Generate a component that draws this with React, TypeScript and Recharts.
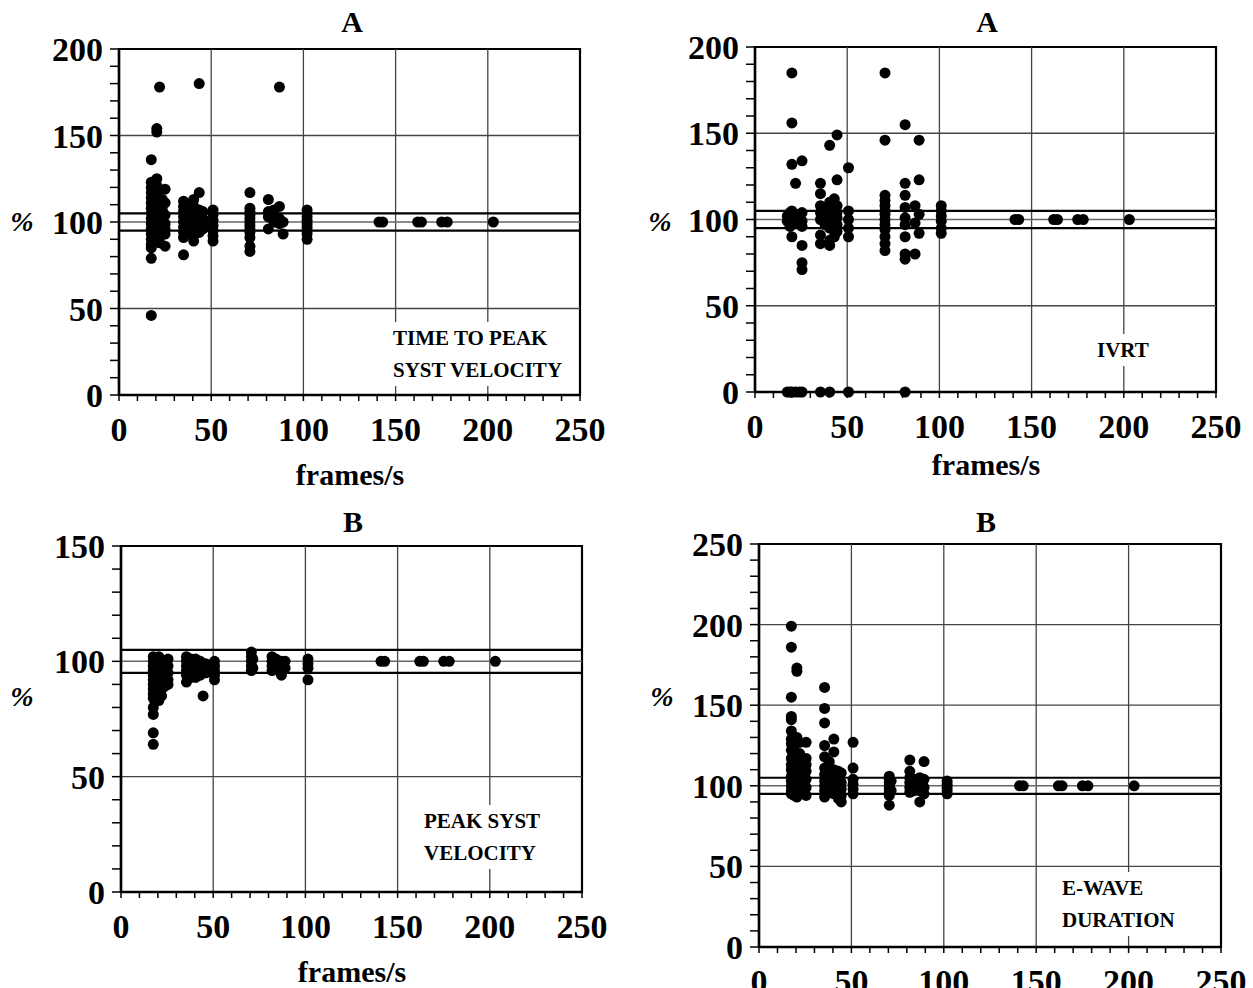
import { ScatterChart, Scatter, XAxis, YAxis, ReferenceLine, ReferenceArea } from "recharts";

// [frames/s, %]
const ttpPoints: [number, number][] = [
    [17.5, 136], [17.5, 123], [17.5, 120], [17.5, 117], [17.5, 114], [17.5, 111], [17.5, 108], [17.5, 105], [17.5, 102],
    [17.5, 99], [17.5, 96], [17.5, 93], [17.5, 90], [17.5, 87], [17.5, 85], [17.5, 79], [17.5, 46],
    [19, 122], [19, 118], [19, 112], [19, 106], [19, 101], [19, 97], [19, 94], [19, 89],
    [20.5, 154], [20.5, 152], [20.5, 125], [20.5, 121], [20.5, 115], [20.5, 109], [20.5, 103], [20.5, 98], [20.5, 92],
    [22, 178], [22, 119], [22, 110], [22, 104], [22, 100], [22, 95], [22, 91], [22, 88],
    [23.5, 113], [23.5, 107], [23.5, 97],
    [25, 119], [25, 111], [25, 104], [25, 99], [25, 96], [25, 93], [25, 86],
    [35, 112], [35, 109], [35, 106], [35, 103], [35, 100], [35, 97], [35, 94], [35, 91], [35, 81],
    [38, 110], [38, 107], [38, 104], [38, 101], [38, 98], [38, 95],
    [40.5, 113], [40.5, 109], [40.5, 106], [40.5, 103], [40.5, 100], [40.5, 96], [40.5, 92], [40.5, 89],
    [43.5, 180], [43.5, 117], [43.5, 107], [43.5, 104], [43.5, 101], [43.5, 98], [43.5, 94],
    [45.5, 106], [45.5, 102], [45.5, 99], [45.5, 96],
    [51, 107], [51, 104], [51, 101], [51, 98], [51, 95], [51, 92], [51, 89],
    [71, 117], [71, 108], [71, 106], [71, 104], [71, 102], [71, 100], [71, 98], [71, 96], [71, 94], [71, 91], [71, 86], [71, 83],
    [81, 113], [81, 106], [81, 103], [81, 96],
    [84, 107], [84, 103], [84, 100],
    [87, 178], [87, 109], [87, 102], [87, 99],
    [89, 100], [89, 93],
    [102, 107], [102, 105], [102, 103], [102, 101], [102, 99], [102, 97], [102, 95], [102, 93], [102, 90],
    [141, 100], [143, 100], [162, 100], [164, 100], [175, 100], [178, 100], [203, 100],
];

const ivrtPoints: [number, number][] = [
    [17.5, 102], [17.5, 99], [17.5, 0],
    [19, 104], [19, 96], [19, 0],
    [20, 185], [20, 156], [20, 132], [20, 105], [20, 100], [20, 90], [20, 0],
    [22, 121], [22, 103], [22, 98], [22, 0],
    [24, 0],
    [25.5, 134], [25.5, 104], [25.5, 99], [25.5, 96], [25.5, 85], [25.5, 75], [25.5, 71], [25.5, 0],
    [35.5, 121], [35.5, 115], [35.5, 108], [35.5, 104], [35.5, 100], [35.5, 91], [35.5, 86], [35.5, 0],
    [38, 106], [38, 102], [38, 97],
    [40.5, 143], [40.5, 110], [40.5, 104], [40.5, 100], [40.5, 95], [40.5, 88], [40.5, 85], [40.5, 0],
    [43, 112], [43, 106], [43, 102], [43, 98], [43, 94], [43, 90],
    [44.5, 149], [44.5, 123], [44.5, 108], [44.5, 104], [44.5, 101], [44.5, 97], [44.5, 93],
    [50.7, 130], [50.7, 105], [50.7, 100], [50.7, 95], [50.7, 90], [50.7, 0],
    [70.5, 185], [70.5, 146], [70.5, 114], [70.5, 111], [70.5, 108], [70.5, 105], [70.5, 103], [70.5, 100], [70.5, 97],
    [70.5, 94], [70.5, 90], [70.5, 86], [70.5, 82],
    [81.4, 155], [81.4, 121], [81.4, 114], [81.4, 107], [81.4, 101], [81.4, 97], [81.4, 90], [81.4, 80], [81.4, 77], [81.4, 0],
    [86.8, 108], [86.8, 98], [86.8, 80],
    [89, 146], [89, 123], [89, 103], [89, 92],
    [101, 108], [101, 105], [101, 102], [101, 99], [101, 95], [101, 92],
    [141, 100], [143, 100], [162, 100], [164, 100], [175, 100], [178, 100], [203, 100],
];

const psvPoints: [number, number][] = [
    [17.5, 102], [17.5, 100], [17.5, 98], [17.5, 96], [17.5, 94], [17.5, 92], [17.5, 90], [17.5, 88], [17.5, 86],
    [17.5, 84], [17.5, 80], [17.5, 77], [17.5, 69], [17.5, 64],
    [19, 101], [19, 99], [19, 97], [19, 95], [19, 93], [19, 91], [19, 89], [19, 87], [19, 85],
    [20.5, 102], [20.5, 98], [20.5, 96], [20.5, 93], [20.5, 90], [20.5, 87], [20.5, 83],
    [22, 100], [22, 97], [22, 94], [22, 91], [22, 88], [22, 85],
    [23.5, 99], [23.5, 96], [23.5, 92], [23.5, 89],
    [25.5, 101], [25.5, 98], [25.5, 95], [25.5, 92], [25.5, 90],
    [35.5, 102], [35.5, 100], [35.5, 98], [35.5, 96], [35.5, 94], [35.5, 91],
    [38, 101], [38, 99], [38, 97], [38, 95], [38, 93],
    [40.5, 101], [40.5, 99], [40.5, 97], [40.5, 95], [40.5, 93],
    [43, 100], [43, 98], [43, 96], [43, 94],
    [44.5, 85],
    [46, 99], [46, 97], [46, 95],
    [50.7, 100], [50.7, 98], [50.7, 96], [50.7, 94], [50.7, 92],
    [70.7, 104], [70.7, 102], [70.7, 100], [70.7, 98], [70.7, 96],
    [71.5, 101], [71.5, 97],
    [81.9, 102], [81.9, 100], [81.9, 98], [81.9, 96],
    [84, 101], [84, 99], [84, 97],
    [87, 100], [87, 98], [87, 96], [87, 94],
    [89, 100], [89, 97],
    [101.4, 101], [101.4, 99], [101.4, 97], [101.4, 92],
    [141, 100], [143, 100], [162, 100], [164, 100], [175, 100], [178, 100], [203, 100],
];

const ewdPoints: [number, number][] = [
    [17.5, 199], [17.5, 186], [17.5, 155], [17.5, 143], [17.5, 141], [17.5, 134], [17.5, 129], [17.5, 126], [17.5, 122],
    [17.5, 117], [17.5, 113], [17.5, 110], [17.5, 106], [17.5, 103], [17.5, 100], [17.5, 97], [17.5, 95],
    [19, 125], [19, 120], [19, 115], [19, 108], [19, 104], [19, 99], [19, 94],
    [20.5, 173], [20.5, 171], [20.5, 130], [20.5, 118], [20.5, 112], [20.5, 107], [20.5, 102], [20.5, 97], [20.5, 93],
    [22, 127], [22, 120], [22, 114], [22, 109], [22, 104], [22, 100], [22, 96],
    [25.5, 127], [25.5, 117], [25.5, 113], [25.5, 109], [25.5, 104], [25.5, 99], [25.5, 94],
    [35.5, 161], [35.5, 148], [35.5, 139], [35.5, 125], [35.5, 118], [35.5, 111], [35.5, 107], [35.5, 103], [35.5, 100],
    [35.5, 97], [35.5, 93],
    [38, 115], [38, 108], [38, 104], [38, 99],
    [40.5, 129], [40.5, 121], [40.5, 110], [40.5, 106], [40.5, 102], [40.5, 98], [40.5, 95],
    [43, 109], [43, 104], [43, 100], [43, 96], [43, 92],
    [44.5, 108], [44.5, 102], [44.5, 98], [44.5, 94], [44.5, 90],
    [50.9, 127], [50.9, 111], [50.9, 104], [50.9, 101], [50.9, 98], [50.9, 95],
    [70.5, 106], [70.5, 104], [70.5, 102], [70.5, 100], [70.5, 98], [70.5, 96], [70.5, 94], [70.5, 88],
    [71.5, 103], [71.5, 97],
    [81.6, 116], [81.6, 109], [81.6, 105], [81.6, 102], [81.6, 99], [81.6, 96],
    [84, 104], [84, 100], [84, 97],
    [87, 105], [87, 101], [87, 97], [87, 90],
    [89.3, 115], [89.3, 104], [89.3, 99], [89.3, 95],
    [101.8, 103], [101.8, 101], [101.8, 99], [101.8, 97], [101.8, 95],
    [141, 100], [143, 100], [162, 100], [164, 100], [175, 100], [178, 100], [203, 100],
];

const xMajor = [50, 100, 150, 200];
const limitLines = [95, 105];

const steps = (max: number, step: number) => {
    const out: number[] = [];
    for (let v = 0; v <= max; v += step) out.push(v);
    return out;
};

const FONT = "'Liberation Serif', 'Times New Roman', serif";
const tickStyle = { fill: "#000", fontSize: 34, fontWeight: 700, fontFamily: FONT };

type PanelProps = {
    points: [number, number][];
    yMax: number;
    plot: { left: number; top: number; right: number; bottom: number };
};

const Panel = ({ points, yMax, plot }: PanelProps) => {
    const data = points.map(([fps, pct]) => ({ fps, pct }));
    const width = plot.right - plot.left + 150;
    const height = plot.bottom - plot.top + 100;
    const yGrid = steps(yMax, 50).filter((v) => v > 0 && v < yMax && v !== 100);
    return (
        <div style={{ position: "absolute", left: plot.left - 100, top: plot.top - 20 }}>
            <ScatterChart
                width={width}
                height={height}
                margin={{ top: 20, right: 50, left: 0, bottom: 0 }}
                style={{ overflow: "visible" }}
            >
                <XAxis
                    type="number"
                    dataKey="fps"
                    domain={[0, 250]}
                    ticks={steps(250, 10)}
                    interval={0}
                    height={80}
                    tickSize={6}
                    tickMargin={16}
                    tickFormatter={(v) => (v % 50 === 0 ? String(v) : "")}
                    tick={tickStyle}
                    axisLine={{ stroke: "#000", strokeWidth: 2.5 }}
                    tickLine={{ stroke: "#000", strokeWidth: 1.5 }}
                />
                <YAxis
                    type="number"
                    dataKey="pct"
                    domain={[0, yMax]}
                    ticks={steps(yMax, 10)}
                    interval={0}
                    width={100}
                    tickSize={9}
                    tickMargin={7}
                    tickFormatter={(v) => (v % 50 === 0 ? String(v) : "")}
                    tick={tickStyle}
                    axisLine={{ stroke: "#000", strokeWidth: 2.5 }}
                    tickLine={{ stroke: "#000", strokeWidth: 1.5 }}
                />
                {xMajor.map((v) => (
                    <ReferenceLine key={`x${v}`} x={v} stroke="#444" strokeWidth={1.3} />
                ))}
                {yGrid.map((v) => (
                    <ReferenceLine key={`y${v}`} y={v} stroke="#444" strokeWidth={1.3} />
                ))}
                <ReferenceLine y={100} stroke="#666" strokeWidth={1.5} />
                {limitLines.map((v) => (
                    <ReferenceLine key={`l${v}`} y={v} stroke="#000" strokeWidth={2.2} />
                ))}
                <ReferenceArea x1={0} x2={250} y1={0} y2={yMax} fill="none" fillOpacity={0} stroke="#000" strokeWidth={2.2} />
                <Scatter
                    data={data}
                    isAnimationActive={false}
                    shape={(p: any) => <circle cx={p.cx} cy={p.cy} r={5.5} fill="#000" />}
                />
            </ScatterChart>
        </div>
    );
};

const Txt = ({ x, y, size, children, italic }: { x: number; y: number; size: number; children: React.ReactNode; italic?: boolean }) => (
    <div
        style={{
            position: "absolute",
            left: x,
            top: y,
            transform: "translate(-50%, -50%)",
            fontSize: size,
            fontWeight: 700,
            fontStyle: italic ? "italic" : "normal",
            whiteSpace: "nowrap",
            lineHeight: 1,
        }}
    >
        {children}
    </div>
);

const Note = ({ left, top, lines, align }: { left: number; top: number; lines: string[]; align: "left" | "center" }) => (
    <div
        style={{
            position: "absolute",
            left,
            top,
            background: "#fff",
            padding: "0 7px",
            fontSize: 21,
            fontWeight: 700,
            lineHeight: "32px",
            textAlign: align,
            whiteSpace: "nowrap",
        }}
    >
        {lines.map((l) => (
            <div key={l}>{l}</div>
        ))}
    </div>
);

export default function App() {
    return (
        <div
            style={{
                position: "absolute",
                left: 0,
                top: 0,
                width: 1253,
                height: 988,
                overflow: "hidden",
                background: "#fff",
                fontFamily: FONT,
                color: "#000",
            }}
        >
            <Panel points={ttpPoints} yMax={200} plot={{ left: 119, top: 49, right: 580, bottom: 395 }} />
            <Panel points={ivrtPoints} yMax={200} plot={{ left: 755, top: 47, right: 1216, bottom: 392 }} />
            <Panel points={psvPoints} yMax={150} plot={{ left: 121, top: 546, right: 582, bottom: 892 }} />
            <Panel points={ewdPoints} yMax={250} plot={{ left: 759, top: 544, right: 1221, bottom: 947 }} />

            <Txt x={352} y={22} size={30}>A</Txt>
            <Txt x={987} y={22} size={30}>A</Txt>
            <Txt x={353} y={522} size={30}>B</Txt>
            <Txt x={986} y={522} size={30}>B</Txt>

            <Txt x={350} y={475} size={30}>frames/s</Txt>
            <Txt x={986} y={465} size={30}>frames/s</Txt>
            <Txt x={352} y={972} size={30}>frames/s</Txt>

            <Txt x={22} y={222} size={28} italic>%</Txt>
            <Txt x={660} y={222} size={28} italic>%</Txt>
            <Txt x={22} y={697} size={28} italic>%</Txt>
            <Txt x={662} y={697} size={28} italic>%</Txt>

            <Note left={386} top={322} lines={["TIME TO PEAK", "SYST VELOCITY"]} align="left" />
            <Note left={1090} top={334} lines={["IVRT"]} align="center" />
            <Note left={417} top={805} lines={["PEAK SYST", "VELOCITY"]} align="left" />
            <Note left={1055} top={872} lines={["E-WAVE", "DURATION"]} align="left" />
        </div>
    );
}
